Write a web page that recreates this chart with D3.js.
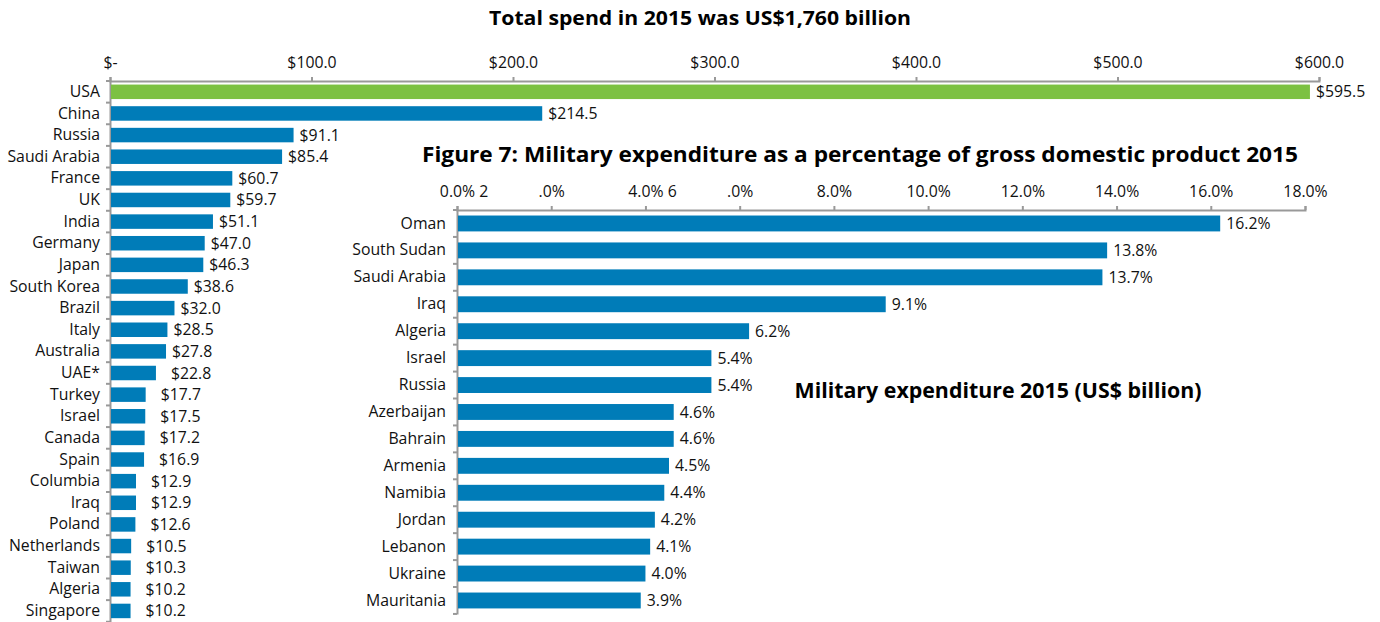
<!DOCTYPE html>
<meta charset="utf-8">
<script src="https://cdn.jsdelivr.net/npm/d3@7"></script>
<style>
body { margin: 0; background: #fff; }
svg { display: block; font-family: "Open Sans", sans-serif; }
.axis path, .axis line { stroke: #999; stroke-width: 2; }
.axis text { font-size: 15.8px; fill: #111; font-family: "Open Sans", sans-serif; }
.val { font-size: 15.8px; fill: #111; }
.title { font-weight: 700; fill: #000; }
</style>
<body>
<script>

// left chart: spend in US$ billion
var spendCountries = ["USA", "China", "Russia", "Saudi Arabia", "France", "UK", "India", "Germany", "Japan",
  "South Korea", "Brazil", "Italy", "Australia", "UAE*", "Turkey", "Israel", "Canada", "Spain",
  "Columbia", "Iraq", "Poland", "Netherlands", "Taiwan", "Algeria", "Singapore"]
var spendValues = [595.5, 214.5, 91.1, 85.4, 60.7, 59.7, 51.1, 47.0, 46.3, 38.6, 32.0, 28.5, 27.8, 22.8,
  17.7, 17.5, 17.2, 16.9, 12.9, 12.9, 12.6, 10.5, 10.3, 10.2, 10.2]
var spendTicks = [0, 100, 200, 300, 400, 500, 600]

// right chart: % of GDP
var gdpCountries = ["Oman", "South Sudan", "Saudi Arabia", "Iraq", "Algeria", "Israel", "Russia", "Azerbaijan",
  "Bahrain", "Armenia", "Namibia", "Jordan", "Lebanon", "Ukraine", "Mauritania"]
var gdpValues = [16.2, 13.8, 13.7, 9.1, 6.2, 5.4, 5.4, 4.6, 4.6, 4.5, 4.4, 4.2, 4.1, 4.0, 3.9]
var gdpTicks = [0, 2, 4, 6, 8, 10, 12, 14, 16, 18]
var gdpTickLabels = ["0.0% 2", ".0%", "4.0% 6", ".0%", "8.0%", "10.0%", "12.0%", "14.0%", "16.0%", "18.0%"]

var blue = "#007cb8", green = "#7cc142"

var width = 1380, height = 622
var svg = d3.select("body").append("svg").attr("width", width).attr("height", height)

// titles
svg.append("text").attr("class", "title").attr("x", 700).attr("y", 25)
   .attr("text-anchor", "middle").style("font-size", "20px")
   .attr("textLength", 422).attr("lengthAdjust", "spacingAndGlyphs")
   .text("Total spend in 2015 was US$1,760 billion")

// ---- left chart
var x1 = d3.scaleLinear().domain([0, 600]).range([110, 1319])
var y1 = d3.scaleBand().domain(spendCountries).range([81, 81 + 21.63 * 25]).paddingInner(0.33).paddingOuter(0.165)

svg.append("g").attr("class", "axis").attr("transform", "translate(0,81)")
   .call(d3.axisTop(x1).tickValues(spendTicks).tickSize(4).tickSizeOuter(4)
     .tickFormat(function(d) { return d == 0 ? "$-" : "$" + d3.format(".1f")(d) }))
   .selectAll("text").attr("dy", "-0.4em")

var yAx1 = svg.append("g").attr("class", "axis").attr("transform", "translate(110,0)")
   .call(d3.axisLeft(y1).tickSize(0).tickPadding(10))
// boundary ticks
yAx1.selectAll(".bnd").data(d3.range(spendCountries.length + 1)).enter().append("line")
   .attr("x1", -4).attr("x2", 0)
   .attr("y1", function(i) { return 81 + i * y1.step() }).attr("y2", function(i) { return 81 + i * y1.step() })

svg.selectAll(".bar1").data(spendValues).enter().append("rect")
   .attr("x", x1(0) + 1)
   .attr("y", function(d, i) { return y1(spendCountries[i]) })
   .attr("width", function(d) { return x1(d) - x1(0) - 1 })
   .attr("height", y1.bandwidth())
   .attr("fill", function(d, i) { return i == 0 ? green : blue })

svg.selectAll(".val1").data(spendValues).enter().append("text").attr("class", "val")
   .attr("x", function(d) { return x1(d) + (d < 25 ? 15 : 6) })
   .attr("y", function(d, i) { return y1(spendCountries[i]) + y1.bandwidth() / 2 })
   .attr("dy", "0.35em")
   .text(function(d) { return "$" + d3.format(".1f")(d) })

// ---- right chart
svg.append("rect").attr("x", 340).attr("y", 130).attr("width", 1040).attr("height", 492).attr("fill", "#fff")

svg.append("text").attr("class", "title").attr("x", 860).attr("y", 162)
   .attr("text-anchor", "middle").style("font-size", "21px")
   .attr("textLength", 876).attr("lengthAdjust", "spacingAndGlyphs")
   .text("Figure 7: Military expenditure as a percentage of gross domestic product 2015")

var x2 = d3.scaleLinear().domain([0, 18]).range([457, 1305])
var y2 = d3.scaleBand().domain(gdpCountries).range([210, 210 + 26.93 * 15]).paddingInner(0.41).paddingOuter(0.205)

var xAx2 = svg.append("g").attr("class", "axis").attr("transform", "translate(0,210)")
   .call(d3.axisTop(x2).tickValues(gdpTicks).tickSize(4).tickSizeOuter(4)
     .tickFormat(function(d, i) { return gdpTickLabels[i] }))
xAx2.selectAll("text").attr("dy", "-0.4em").each(function(d, i) {
  var lab = gdpTickLabels[i]
  if (lab.indexOf(" ") > 0) {
    // label with a stray fragment: keep first part centred on the tick
    var t = d3.select(this)
    t.text(lab.split(" ")[0])
    var w = this.getComputedTextLength()
    t.text(lab).attr("text-anchor", "start").attr("x", -w / 2)
  }
})

var yAx2 = svg.append("g").attr("class", "axis").attr("transform", "translate(457,0)")
   .call(d3.axisLeft(y2).tickSize(0).tickPadding(11))
yAx2.selectAll(".bnd").data(d3.range(gdpCountries.length + 1)).enter().append("line")
   .attr("x1", -4).attr("x2", 0)
   .attr("y1", function(i) { return 210 + i * y2.step() }).attr("y2", function(i) { return 210 + i * y2.step() })

svg.selectAll(".bar2").data(gdpValues).enter().append("rect")
   .attr("x", x2(0) + 1)
   .attr("y", function(d, i) { return y2(gdpCountries[i]) })
   .attr("width", function(d) { return x2(d) - x2(0) - 1 })
   .attr("height", y2.bandwidth())
   .attr("fill", blue)

svg.selectAll(".val2").data(gdpValues).enter().append("text").attr("class", "val")
   .attr("x", function(d) { return x2(d) + 6 })
   .attr("y", function(d, i) { return y2(gdpCountries[i]) + y2.bandwidth() / 2 })
   .attr("dy", "0.35em")
   .text(function(d) { return d3.format(".1f")(d) + "%" })

svg.append("text").attr("class", "title").attr("x", 998).attr("y", 398)
   .attr("text-anchor", "middle").style("font-size", "21px")
   .attr("textLength", 407).attr("lengthAdjust", "spacingAndGlyphs")
   .text("Military expenditure 2015 (US$ billion)")

</script>
</body>
